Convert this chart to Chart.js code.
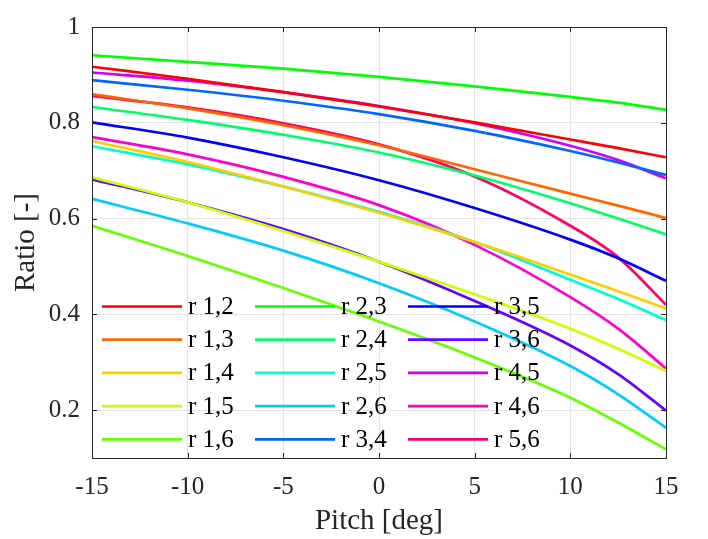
<!DOCTYPE html>
<html>
<head>
<meta charset="utf-8">
<script src="https://cdn.jsdelivr.net/npm/chart.js@4.4.1/dist/chart.umd.min.js"></script>
<style>
    html, body { margin: 0; padding: 0; background: #ffffff; }
    #wrap { width: 708px; height: 539px; }
</style>
</head>
<body>
<div id="wrap"><canvas id="ratio-chart" width="708" height="539"></canvas></div>
<script>
// pitch angles where the curves were read
var pitch = [-15, -10, -5, 0, 5, 10, 12.5, 15];

var r12 = [0.917, 0.892, 0.864, 0.834, 0.801, 0.765, 0.747, 0.728];
var r13 = [0.860, 0.830, 0.795, 0.753, 0.703, 0.652, 0.627, 0.601];
var r14 = [0.762, 0.718, 0.667, 0.612, 0.551, 0.483, 0.448, 0.412];
var r15 = [0.686, 0.634, 0.574, 0.510, 0.442, 0.370, 0.328, 0.282];
var r16 = [0.585, 0.522, 0.455, 0.385, 0.310, 0.226, 0.174, 0.118];
var r23 = [0.941, 0.927, 0.913, 0.896, 0.876, 0.854, 0.842, 0.827];
var r24 = [0.833, 0.806, 0.775, 0.738, 0.690, 0.632, 0.600, 0.567];
var r25 = [0.751, 0.713, 0.667, 0.614, 0.551, 0.472, 0.432, 0.388];
var r26 = [0.641, 0.590, 0.533, 0.465, 0.385, 0.292, 0.233, 0.163];
var r34 = [0.889, 0.869, 0.846, 0.818, 0.783, 0.741, 0.717, 0.691];
var r35 = [0.801, 0.769, 0.728, 0.680, 0.622, 0.556, 0.517, 0.470];
var r36 = [0.682, 0.634, 0.578, 0.510, 0.428, 0.335, 0.275, 0.199];
var r45 = [0.905, 0.888, 0.864, 0.835, 0.799, 0.752, 0.722, 0.684];
var r46 = [0.770, 0.734, 0.687, 0.628, 0.545, 0.436, 0.370, 0.287];
var r56 = [0.856, 0.832, 0.799, 0.755, 0.688, 0.585, 0.519, 0.420];

var seriesLabels = ['r 1,2', 'r 1,3', 'r 1,4', 'r 1,5', 'r 1,6',
    'r 2,3', 'r 2,4', 'r 2,5', 'r 2,6', 'r 3,4',
    'r 3,5', 'r 3,6', 'r 4,5', 'r 4,6', 'r 5,6'];
var seriesValues = [r12, r13, r14, r15, r16, r23, r24, r25, r26, r34, r35, r36, r45, r46, r56];
var seriesColors = ['#ff0000', '#ff6600', '#ffcc00', '#ccff00', '#66ff00',
    '#00ff00', '#00ff66', '#00ffcc', '#00ccff', '#0066ff',
    '#0000ff', '#6600ff', '#cc00ff', '#ff00cc', '#ff0066'];

var xTicks = [-15, -10, -5, 0, 5, 10, 15];
var yTicks = [0.2, 0.4, 0.6, 0.8, 1];

var axisColor = '#262626';
var serif = "'Liberation Serif', 'Times New Roman', serif";

var dataSets = seriesLabels.map(function (label, i) {
    return {
        label: label,
        data: pitch.map(function (p, j) { return { x: p, y: seriesValues[i][j] }; }),
        borderColor: seriesColors[i],
        backgroundColor: seriesColors[i],
        borderWidth: 2.7,
        pointRadius: 0,
        cubicInterpolationMode: 'monotone',
        fill: false
    };
});

// matlab style box, inward ticks and a 3 column legend without frame
var matlabAxes = {
    id: 'matlabAxes',
    afterDatasetsDraw: function (chart) {
        var ctx = chart.ctx;
        var area = chart.chartArea;
        var xs = chart.scales.x;
        var ys = chart.scales.y;
        var tl = 5;

        ctx.save();
        ctx.strokeStyle = axisColor;
        ctx.lineWidth = 1;
        ctx.beginPath();
        xTicks.forEach(function (v) {
            var px = Math.round(xs.getPixelForValue(v)) + 0.5;
            ctx.moveTo(px, area.bottom);
            ctx.lineTo(px, area.bottom - tl);
            ctx.moveTo(px, area.top);
            ctx.lineTo(px, area.top + tl);
        });
        yTicks.forEach(function (v) {
            var py = Math.round(ys.getPixelForValue(v)) + 0.5;
            ctx.moveTo(area.left, py);
            ctx.lineTo(area.left + tl, py);
            ctx.moveTo(area.right, py);
            ctx.lineTo(area.right - tl, py);
        });
        ctx.stroke();
        ctx.strokeRect(Math.round(area.left) + 0.5, Math.round(area.top) + 0.5,
            Math.round(area.right - area.left), Math.round(area.bottom - area.top));

        // legend
        var rows = 5;
        var colW = 153;
        var rowH = 33.2;
        var x0 = area.left + 10;
        var y0 = area.bottom - 151.5;
        ctx.font = '25px ' + serif;
        ctx.textBaseline = 'middle';
        ctx.textAlign = 'left';
        chart.data.datasets.forEach(function (ds, i) {
            var col = Math.floor(i / rows);
            var row = i % rows;
            var lx = x0 + col * colW;
            var ly = y0 + row * rowH;
            ctx.strokeStyle = ds.borderColor;
            ctx.lineWidth = 2.7;
            ctx.beginPath();
            ctx.moveTo(lx, ly);
            ctx.lineTo(lx + 80, ly);
            ctx.stroke();
            ctx.fillStyle = '#000000';
            ctx.fillText(ds.label, lx + 86, ly + 1);
        });
        ctx.restore();
    }
};

var ctx = document.getElementById('ratio-chart').getContext('2d');

var ratioChart = new Chart(ctx, {
    type: 'line',
    data: {
        datasets: dataSets
    },
    options: {
        responsive: false,
        animation: false,
        layout: {
            padding: { top: 15, right: 42, left: 0, bottom: 0 }
        },
        scales: {
            x: {
                type: 'linear',
                min: -15,
                max: 15,
                afterFit: function (scale) { scale.height = 81; },
                afterBuildTicks: function (scale) {
                    scale.ticks = xTicks.map(function (v) { return { value: v }; });
                },
                grid: {
                    color: '#e3e3e3',
                    drawTicks: false
                },
                border: { display: false },
                ticks: {
                    padding: 14,
                    color: axisColor,
                    font: { family: serif, size: 25 },
                    maxRotation: 0,
                    callback: function (v) { return String(v); }
                },
                title: {
                    display: true,
                    text: 'Pitch [deg]',
                    color: axisColor,
                    font: { family: serif, size: 29 },
                    padding: { top: 0, bottom: 0 }
                }
            },
            y: {
                type: 'linear',
                min: 0.1,
                max: 1,
                afterFit: function (scale) { scale.width = 92; },
                afterBuildTicks: function (scale) {
                    scale.ticks = yTicks.map(function (v) { return { value: v }; });
                },
                grid: {
                    color: '#e3e3e3',
                    drawTicks: false
                },
                border: { display: false },
                ticks: {
                    padding: 12,
                    color: axisColor,
                    font: { family: serif, size: 25 },
                    callback: function (v) { return String(+v.toFixed(2)); }
                },
                title: {
                    display: true,
                    text: 'Ratio [-]',
                    color: axisColor,
                    font: { family: serif, size: 29 },
                    padding: { top: 9, bottom: 0 }
                }
            }
        },
        plugins: {
            legend: { display: false },
            tooltip: { enabled: false }
        }
    },
    plugins: [matlabAxes]
});
</script>
</body>
</html>
